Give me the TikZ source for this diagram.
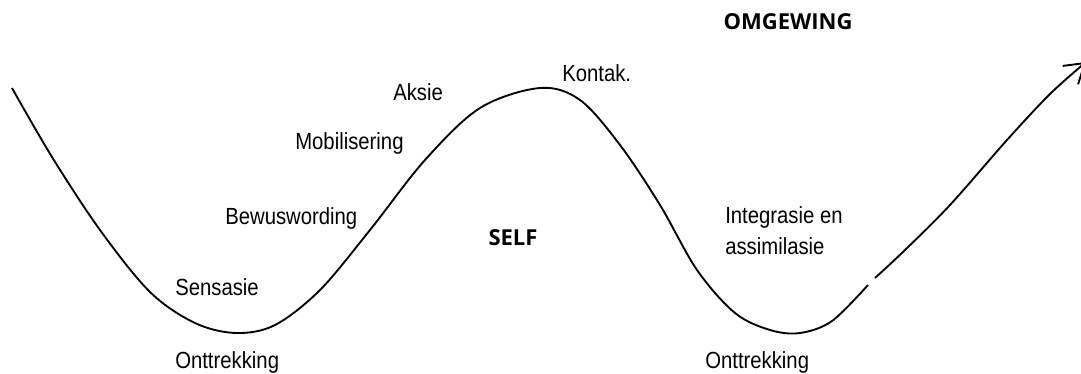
\documentclass[tikz,border=0pt]{standalone}
\usepackage{fontspec}
\setmainfont[FakeStretch=0.87]{Liberation Sans}
\newfontfamily\zonefont{Open Sans}
\usepackage{tikz}
\usetikzlibrary{arrows.meta}
\tikzset{
  stage_label/.style = {inner sep=0pt, anchor=base west,
    font=\fontsize{17.5}{23.25}\selectfont},% fase van die siklus
  zone_label/.style = {inner sep=0pt, anchor=base,
    font=\zonefont\bfseries\fontsize{16.5}{18}\selectfont},% self / omgewing
  cycle_line/.style = {line width=1.4pt, black}% kontaksiklus
}
\begin{document}
\begin{tikzpicture}[x=0.75pt, y=-0.75pt]
  \clip (0,0) rectangle (1081,374);
  \useasboundingbox (0,0) rectangle (1081,374);
  % siklus
  \draw [cycle_line] plot [smooth, tension=0.55] coordinates {
    (12,88) (52,157) (100,230) (150,292) (195,323) (236,333) (275,325)
    (320,290) (370,230) (425,160) (480,108) (540,88) (580,100) (620,145)
    (660,205) (697,270) (735,313) (770,330) (800,333) (832,321)
    (868,285)};
  \draw [cycle_line, -{Straight Barb[length=14pt, width=18pt, line width=1.4pt]}]
    plot [smooth, tension=0.55] coordinates {
    (875,278) (905,250) (950,205) (1007,140) (1050,94) (1086,62)};
  % fases
  \node [stage_label] (onttrek_a) at (175,368) {Onttrekking};
  \node [stage_label] (sensasie) at (175,295) {Sensasie};
  \node [stage_label] (bewus) at (225,224) {Bewuswording};
  \node [stage_label] (mobil) at (295,150) {Mobilisering};
  \node [stage_label] (aksie) at (393,101) {Aksie};
  \node [stage_label] (kontak) at (562,82) {Kontak.};
  \node [stage_label, align=left, anchor=north west] (integ) at (725,206)
    {Integrasie en\\assimilasie};
  \node [stage_label] (onttrek_b) at (705,368) {Onttrekking};
  % gebiede
  \node [zone_label] (self) at (513,245) {SELF};
  \node [zone_label] (omgewing) at (788,30) {OMGEWING};
\end{tikzpicture}
\end{document}
